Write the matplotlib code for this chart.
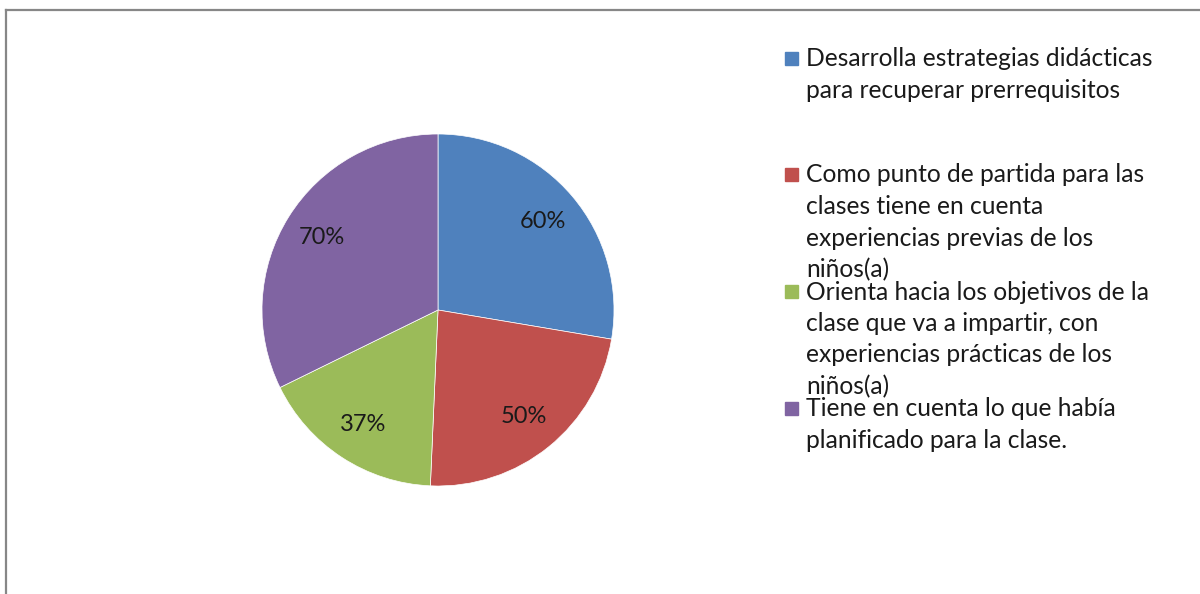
import matplotlib
matplotlib.use("Agg")
import matplotlib.pyplot as plt
from matplotlib.lines import Line2D
from matplotlib.patches import Rectangle

categories = [
    "Desarrolla estrategias didácticas\npara recuperar prerrequisitos",
    "Como punto de partida para las\nclases tiene en cuenta\nexperiencias previas de los\nniños(a)",
    "Orienta hacia los objetivos de la\nclase que va a impartir, con\nexperiencias prácticas de los\nniños(a)",
    "Tiene en cuenta lo que había\nplanificado para la clase.",
]
values = [60, 50, 37, 70]
colors = ["#4F81BD", "#C0504D", "#9BBB59", "#8064A2"]

plt.rcParams['font.family'] = ['Lato', 'DejaVu Sans']

W, H = 1200, 594
fig = plt.figure(figsize=(W / 100, H / 100), dpi=100)
fig.patch.set_facecolor("white")

# chart frame (extends past right and bottom edges)
fig.add_artist(Line2D([6 / W, 6 / W], [1 - 10 / H, 0], transform=fig.transFigure,
                      color="#878787", lw=1.6))
fig.add_artist(Line2D([6 / W, 1.0], [1 - 10 / H, 1 - 10 / H], transform=fig.transFigure,
                      color="#878787", lw=1.6))

cx, cy, r = 438, 310, 176
ax = fig.add_axes([(cx - r) / W, (H - cy - r) / H, 2 * r / W, 2 * r / H])
total = sum(values)
wedges, texts, autotexts = ax.pie(
    values, colors=colors, startangle=90, counterclock=False,
    autopct=lambda p: f"{round(p * total / 100)}%", pctdistance=0.78,
    wedgeprops=dict(edgecolor="white", linewidth=0.5),
    textprops=dict(fontsize=17, color="#1a1a1a"))
ax.set_xlim(-1, 1)
ax.set_ylim(-1, 1)
ax.set_aspect("equal")
ax.axis("off")

# legend
entry_tops = [59, 175, 292, 409]
line_h = 31.5
for cat, col, top in zip(categories, colors, entry_tops):
    fig.add_artist(Rectangle(((785) / W, 1 - (top + 6) / H), 13 / W, 13 / H,
                             transform=fig.transFigure, color=col))
    for i, line in enumerate(cat.split("\n")):
        fig.text(806 / W, 1 - (top + i * line_h) / H, line, fontsize=17.7,
                 va="center", ha="left", color="#1a1a1a")

fig.savefig("out.png", dpi=100)
